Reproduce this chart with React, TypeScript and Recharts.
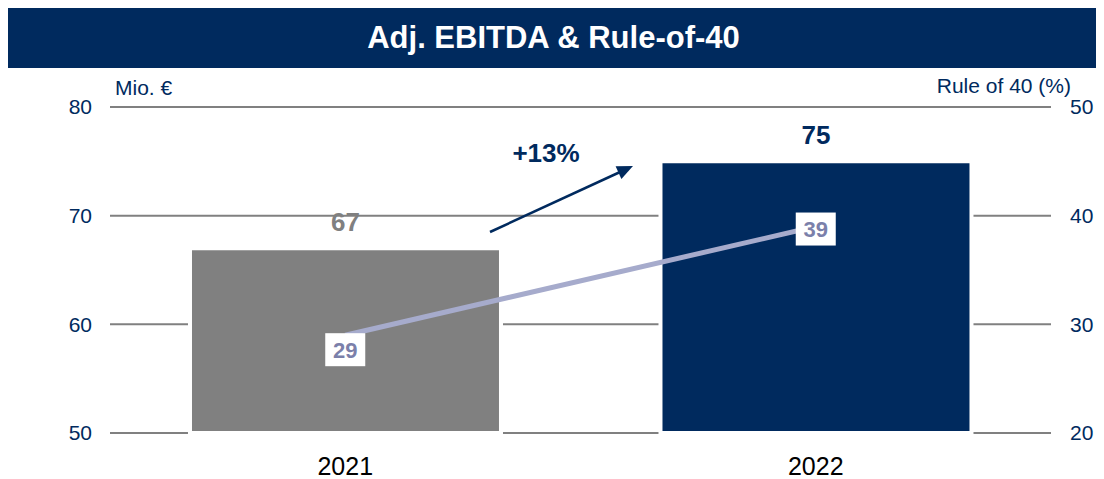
import React from 'react';
import { Bar, Cell, ComposedChart, CartesianGrid, Customized, LabelList, Line, XAxis, YAxis } from 'recharts';

const years = ['2021', '2022'];
const ebitda = [67, 75];
const ruleOf40 = [29, 39];
const leftTicks = [50, 60, 70, 80];
const rightTicks = [20, 30, 40, 50];
const growthLabel = '+13%';

const NAVY = '#002a5e';
const GREY = '#808080';
const LINE = '#a6abcc';
const barColors = [GREY, NAVY];
const font = 'Liberation Sans, Arial, sans-serif';

const data = years.map((year, i) => ({ year, ebitda: ebitda[i], rule: ruleOf40[i] }));

const BarValue = (props: any) => {
  const { x, y, width, value, index } = props;
  return (
    <text x={x + width / 2} y={y - 26} dy='0.35em' textAnchor='middle' fontSize={26} fontWeight='bold' fill={barColors[index]} fontFamily={font}>
      {value}
    </text>
  );
};

const RuleValue = (props: any) => {
  const { x, y, value, index } = props;
  const cy = index === 0 ? y + 14 : y + 2;
  return (
    <g>
      <rect x={x - 20} y={cy - 16} width={40} height={33} fill='#fff' />
      <text x={x} y={cy + 1} dy='0.35em' textAnchor='middle' fontSize={22} fontWeight='bold' fill='#7b80aa' fontFamily={font}>
        {value}
      </text>
    </g>
  );
};

// growth arrow between the two bars
const Annotations = () => (
  <g>
    <line x1={482} y1={164} x2={611} y2={104.5} stroke={NAVY} strokeWidth={2.5} />
    <path d='M625,98 L613.4,111.1 L607.6,98.3 Z' fill={NAVY} />
    <text x={538} y={85} dy='0.35em' textAnchor='middle' fontSize={26} fontWeight='bold' fill={NAVY} fontFamily={font}>
      {growthLabel}
    </text>
    <text x={107} y={20} dy='0.35em' fontSize={21} fill={NAVY} fontFamily={font}>Mio. €</text>
    <text x={1063} y={18} dy='0.35em' textAnchor='end' fontSize={21} fill={NAVY} fontFamily={font}>Rule of 40 (%)</text>
  </g>
);

export default function App() {
  return (
    <div style={{ width: 1088, fontFamily: font }}>
      <div style={{ width: 1097, marginLeft: -1, height: 60, background: NAVY, color: '#fff', fontSize: 31, fontWeight: 'bold', display: 'flex', alignItems: 'center', justifyContent: 'center' }}>
        <span style={{ marginLeft: -4 }}>Adj. EBITDA &amp; Rule-of-40</span>
      </div>
      <ComposedChart width={1088} height={411} data={data} margin={{ top: 39, right: 0, bottom: 6, left: 0 }} barCategoryGap='17%'>
        <CartesianGrid yAxisId='left' horizontal vertical={false} stroke={GREY} strokeWidth={2} />
        <XAxis dataKey='year' axisLine={false} tickLine={false} height={40} tickMargin={18} tick={{ fontSize: 25, fill: '#000', fontFamily: font }} />
        <YAxis yAxisId='left' domain={[50, 80]} ticks={leftTicks} width={102} axisLine={false} tickLine={false} tickMargin={12} tick={{ fontSize: 21, fill: NAVY, fontFamily: font }} />
        <YAxis yAxisId='right' orientation='right' domain={[20, 50]} ticks={rightTicks} width={45} axisLine={false} tickLine={false} tickMargin={13} tick={{ fontSize: 21, fill: NAVY, fontFamily: font }} />
        <Bar yAxisId='left' dataKey='ebitda' stroke='#fff' strokeWidth={4} isAnimationActive={false}>
          {data.map((d, i) => (
            <Cell key={d.year} fill={barColors[i]} />
          ))}
          <LabelList dataKey='ebitda' content={BarValue} />
        </Bar>
        <Line yAxisId='right' dataKey='rule' stroke={LINE} strokeWidth={5} dot={false} isAnimationActive={false}>
          <LabelList dataKey='rule' content={RuleValue} />
        </Line>
        <Customized component={Annotations} />
      </ComposedChart>
    </div>
  );
}
